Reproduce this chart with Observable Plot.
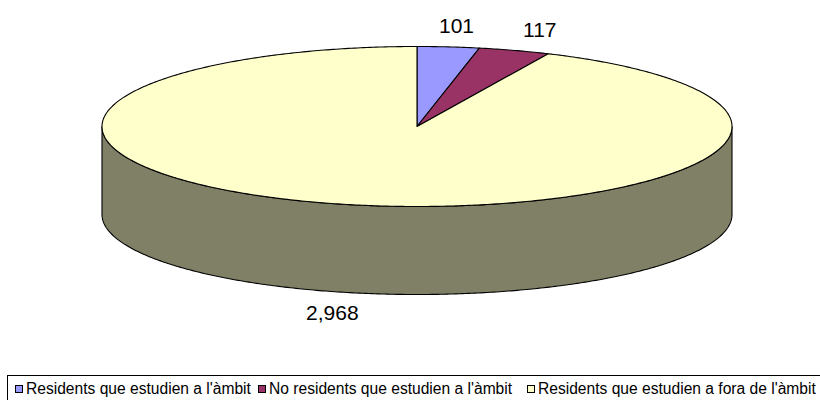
<!DOCTYPE html>
<html>
<head>
<meta charset="utf-8">
<script src="https://cdn.jsdelivr.net/npm/d3@7"></script>
<script src="https://cdn.jsdelivr.net/npm/@observablehq/plot@0.6"></script>
<style>
  html, body { margin: 0; padding: 0; background: #fff; }
  #wrap { position: relative; width: 820px; height: 400px; overflow: hidden; font-family: "Liberation Sans", Arial, sans-serif; }
  #legend { position: absolute; left: 7px; top: 375px; width: 840px; height: 40px; border: 1px solid #000; box-sizing: border-box; }
  .sw { position: absolute; top: 9px; width: 8px; height: 8px; border: 1px solid #000; box-sizing: border-box; }
  .lt { position: absolute; top: 4px; font-size: 15.6px; line-height: 18px; color: #000; white-space: nowrap; }
</style>
</head>
<body>
<div id="wrap"><div id="chart"></div><div id="legend"></div></div>
<script>
const categories = ["Residents que estudien a l'àmbit", "No residents que estudien a l'àmbit", "Residents que estudien a fora de l'àmbit"];
const values = [101, 117, 2968];
const colors = ["#9999FF", "#993366", "#FFFFCC"];
const sideColors = ["#4d4d80", "#4d1a33", "#808066"];

const depth = 1.1;        // pie thickness in y units
const labelR = 1.26;      // label radius
const total = d3.sum(values);
const TAU = 2 * Math.PI;

// slices, clockwise from 12 o'clock
let acc = 0;
const slices = values.map((v, i) => {
  const a0 = acc / total * TAU;
  acc += v;
  const a1 = acc / total * TAU;
  return {i, v, a0, a1, mid: (a0 + a1) / 2};
});

const pt = (a, dy = 0) => ({x: Math.sin(a), y: Math.cos(a) - dy});
function arc(a0, a1, dy = 0) {
  const n = Math.max(2, Math.ceil((a1 - a0) / 0.01));
  return d3.range(n + 1).map(k => pt(a0 + (a1 - a0) * k / n, dy));
}

const marks = [];
// side walls (front half: angles between 90° and 270°)
slices.forEach(s => {
  const lo = Math.max(s.a0, Math.PI / 2), hi = Math.min(s.a1, 3 * Math.PI / 2);
  if (hi > lo) {
    const poly = [...arc(lo, hi), ...arc(lo, hi, depth).reverse()];
    marks.push(Plot.line(poly, {x: "x", y: "y", fill: sideColors[s.i], stroke: "#000", strokeWidth: 1.1, curve: "linear-closed"}));
  }
});
// top faces
slices.forEach(s => {
  const poly = [{x: 0, y: 0}, ...arc(s.a0, s.a1)];
  marks.push(Plot.line(poly, {x: "x", y: "y", fill: colors[s.i], stroke: "#000", strokeWidth: 1.1, curve: "linear-closed"}));
});
// labels
const fmt = d3.format(",");
marks.push(Plot.text(slices, {
  x: d => labelR * Math.sin(d.mid),
  y: d => labelR * Math.cos(d.mid) - (Math.cos(d.mid) < 0 ? depth : 0),
  text: d => fmt(d.v),
  fontSize: 21, fill: "#000", fontFamily: "Liberation Sans, Arial, sans-serif"
}));

const chart = Plot.plot({
  width: 820, height: 370,
  marginTop: 0, marginRight: 0, marginBottom: 0, marginLeft: 0,
  x: {type: "linear", domain: [-1, 1], range: [101.5, 731.5], axis: null},
  y: {type: "linear", domain: [-1, 1], range: [206, 46], axis: null},
  style: {background: "#fff", overflow: "visible"},
  marks
});
document.getElementById("chart").appendChild(chart);

// legend
const legend = document.getElementById("legend");
const swX = [7, 250, 519];
categories.forEach((c, i) => {
  const sw = document.createElement("div");
  sw.className = "sw"; sw.style.left = swX[i] + "px"; sw.style.background = colors[i];
  legend.appendChild(sw);
  const t = document.createElement("div");
  t.className = "lt"; t.style.left = (swX[i] + 11) + "px"; t.textContent = c;
  legend.appendChild(t);
});
</script>
</body>
</html>
